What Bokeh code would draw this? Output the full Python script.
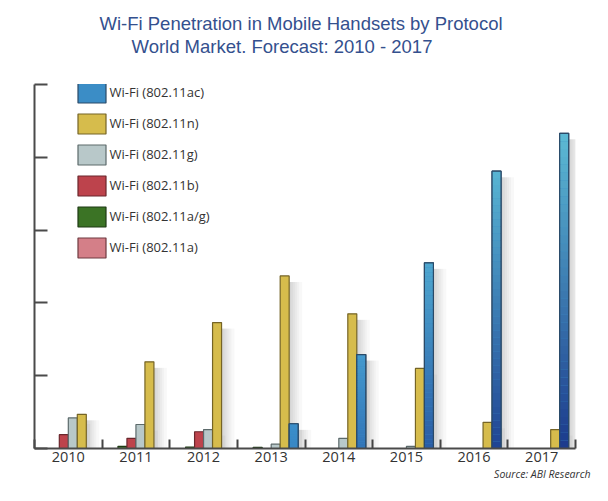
import numpy as np
from bokeh.plotting import figure
from bokeh.models import Range1d, FixedTicker, ColumnDataSource, Legend, LegendItem, Title
from bokeh.embed import file_html
from bokeh.resources import INLINE

# ---------------- data ----------------
years = ["2010", "2011", "2012", "2013", "2014", "2015", "2016", "2017"]
wifi_ac = [0.0, 0.0, 0.0, 0.34, 1.29, 2.55, 3.81, 4.33]
wifi_n = [0.47, 1.19, 1.73, 2.37, 1.85, 1.10, 0.36, 0.26]
wifi_g = [0.42, 0.33, 0.26, 0.06, 0.14, 0.03, 0.0, 0.0]
wifi_b = [0.19, 0.14, 0.23, 0.0, 0.0, 0.0, 0.0, 0.0]
wifi_ag = [0.0, 0.03, 0.02, 0.015, 0.0, 0.0, 0.0, 0.0]
wifi_a = [0.0, 0.0, 0.0, 0.0, 0.0, 0.0, 0.0, 0.0]
labels = ["Wi-Fi (802.11ac)", "Wi-Fi (802.11n)", "Wi-Fi (802.11g)",
          "Wi-Fi (802.11b)", "Wi-Fi (802.11a/g)", "Wi-Fi (802.11a)"]
y_ticks = [0, 1, 2, 3, 4, 5]

# series in left-to-right order within a group
series = [
    ("a", wifi_a, "#d47f88", "#6e3a40"),
    ("ag", wifi_ag, "#3b7325", "#1f3a14"),
    ("b", wifi_b, "#bd434c", "#6a272c"),
    ("g", wifi_g, "#b8c8c9", "#5c6a6b"),
    ("n", wifi_n, "#d6bc4c", "#756426"),
    ("ac", wifi_ac, "#3b8dc6", "#2a4a68"),
]

n_cat = len(years)
bw = 0.133
px_x = n_cat / 541.0
px_y = 5.0 / 364.0

p = figure(width=592, height=485, x_range=Range1d(0, n_cat), y_range=Range1d(0, 5),
           output_backend="svg", toolbar_location=None,
           min_border_left=34, min_border_right=17, min_border_top=84, min_border_bottom=37)
p.xgrid.visible = False
p.ygrid.visible = False
p.outline_line_color = None
p.background_fill_color = "white"

# axes
centers = [i + 0.5 for i in range(n_cat)]
p.xaxis.ticker = FixedTicker(ticks=centers, minor_ticks=list(range(0, n_cat + 1)))
p.xaxis.major_label_overrides = {c: y for c, y in zip(centers, years)}
p.xaxis.major_tick_in = 0
p.xaxis.major_tick_out = 0
p.xaxis.minor_tick_in = 9
p.xaxis.minor_tick_out = 0
p.xaxis.minor_tick_line_color = "#444444"
p.xaxis.minor_tick_line_width = 2
p.xaxis.axis_line_color = "#4a4a4a"
p.xaxis.axis_line_width = 2
p.xaxis.major_label_text_font = "Open Sans"
p.xaxis.major_label_text_font_size = "14.5px"
p.xaxis.major_label_text_color = "#333333"
p.xaxis.major_label_standoff = 3

p.yaxis.ticker = FixedTicker(ticks=y_ticks)
p.yaxis.major_label_overrides = {t: "" for t in y_ticks}
p.yaxis.major_tick_in = 13
p.yaxis.major_tick_out = 0
p.yaxis.major_tick_line_color = "#4a4a4a"
p.yaxis.major_tick_line_width = 2
p.yaxis.minor_tick_line_color = None
p.yaxis.axis_line_color = "#4a4a4a"
p.yaxis.axis_line_width = 2

# soft shadows to the right of each bar
sh = dict(left=[], right=[], top=[], bottom=[])
for k, (_, vals, _, _) in enumerate(series):
    for i, v in enumerate(vals):
        if v <= 0:
            continue
        r = i + 0.5 + (k - 2.5) * bw + bw / 2
        top = max(v - 6 * px_y, 0)
        for d in (2, 4, 6, 8, 10, 13):
            sh["left"].append(r)
            sh["right"].append(r + d * px_x)
            sh["bottom"].append(0)
            sh["top"].append(top)
p.quad(left="left", right="right", top="top", bottom="bottom",
       source=ColumnDataSource(sh), fill_color="black", fill_alpha=0.028, line_color=None)

renderers = {}
for k, (key, vals, fill, line) in enumerate(series):
    xs = [i + 0.5 + (k - 2.5) * bw for i in range(n_cat)]
    src = ColumnDataSource(dict(x=xs, top=vals))
    r = p.vbar(x="x", top="top", width=bw, bottom=0, source=src,
               fill_color=fill, line_color=line, line_width=1.2)
    renderers[key] = r

# vertical colour gradient for the 802.11ac bars
k_ac = 5
cyan = np.array([92, 186, 212])
mid = np.array([58, 140, 202])
navy = np.array([28, 58, 140])
vmax = max(wifi_ac)
gq = dict(left=[], right=[], top=[], bottom=[], color=[])
N = 40
for i, v in enumerate(wifi_ac):
    if v <= 0:
        continue
    c = i + 0.5 + (k_ac - 2.5) * bw
    f = v / vmax
    top_c = mid + (cyan - mid) * f
    bot_c = mid + (navy - mid) * f
    for j in range(N):
        t = (j + 0.5) / N
        col = bot_c + (top_c - bot_c) * t
        gq["left"].append(c - bw / 2)
        gq["right"].append(c + bw / 2)
        gq["bottom"].append(v * j / N)
        gq["top"].append(v * (j + 1) / N)
        gq["color"].append("#%02x%02x%02x" % tuple(int(round(x)) for x in col))
p.quad(left="left", right="right", top="top", bottom="bottom", color="color",
       source=ColumnDataSource(gq), line_color=None)
ac_src = ColumnDataSource(dict(x=[i + 0.5 + (k_ac - 2.5) * bw for i, v in enumerate(wifi_ac) if v > 0],
                               top=[v for v in wifi_ac if v > 0]))
p.vbar(x="x", top="top", width=bw, bottom=0, source=ac_src, fill_alpha=0,
       line_color="#2a4a68", line_width=1.2)

# legend
order = ["ac", "n", "g", "b", "ag", "a"]
items = [LegendItem(label=lab, renderers=[renderers[key]]) for lab, key in zip(labels, order)]
legend = Legend(items=items, location=(39.5, 188.5), orientation="vertical",
                glyph_width=35, glyph_height=25, spacing=6, padding=0, margin=0,
                label_standoff=1, label_height=25,
                label_text_font="Open Sans", label_text_font_size="13px",
                label_text_color="#333333", border_line_alpha=0, background_fill_alpha=0)
p.add_layout(legend, "center")

# titles: p.title is outermost; among added "above" panels the first is nearest the plot
title_color = "#34508e"
p.title.text = "Wi-Fi Penetration in Mobile Handsets by Protocol"
p.title.align = "left"
p.title.offset = 65
p.title.standoff = 0
p.title.text_font = "Liberation Sans"
p.title.text_font_size = "18.5px"
p.title.text_font_style = "normal"
p.title.text_color = title_color
# spacer between the titles and the plot area
p.add_layout(Title(text=" ", standoff=25, text_font_size="1px"), "above")
p.add_layout(Title(text="World Market. Forecast: 2010 - 2017", align="left",
                   offset=97, standoff=0, text_font="Liberation Sans", text_font_size="18.5px",
                   text_line_height=0.88,
                   text_font_style="normal", text_color=title_color), "above")
p.add_layout(Title(text="Source: ABI Research", align="right", offset=-15, standoff=0,
                   text_font="Open Sans", text_font_size="10.5px", text_font_style="italic",
                   text_color="#333333"), "below")

open("out.html", "w").write(file_html(p, INLINE))
